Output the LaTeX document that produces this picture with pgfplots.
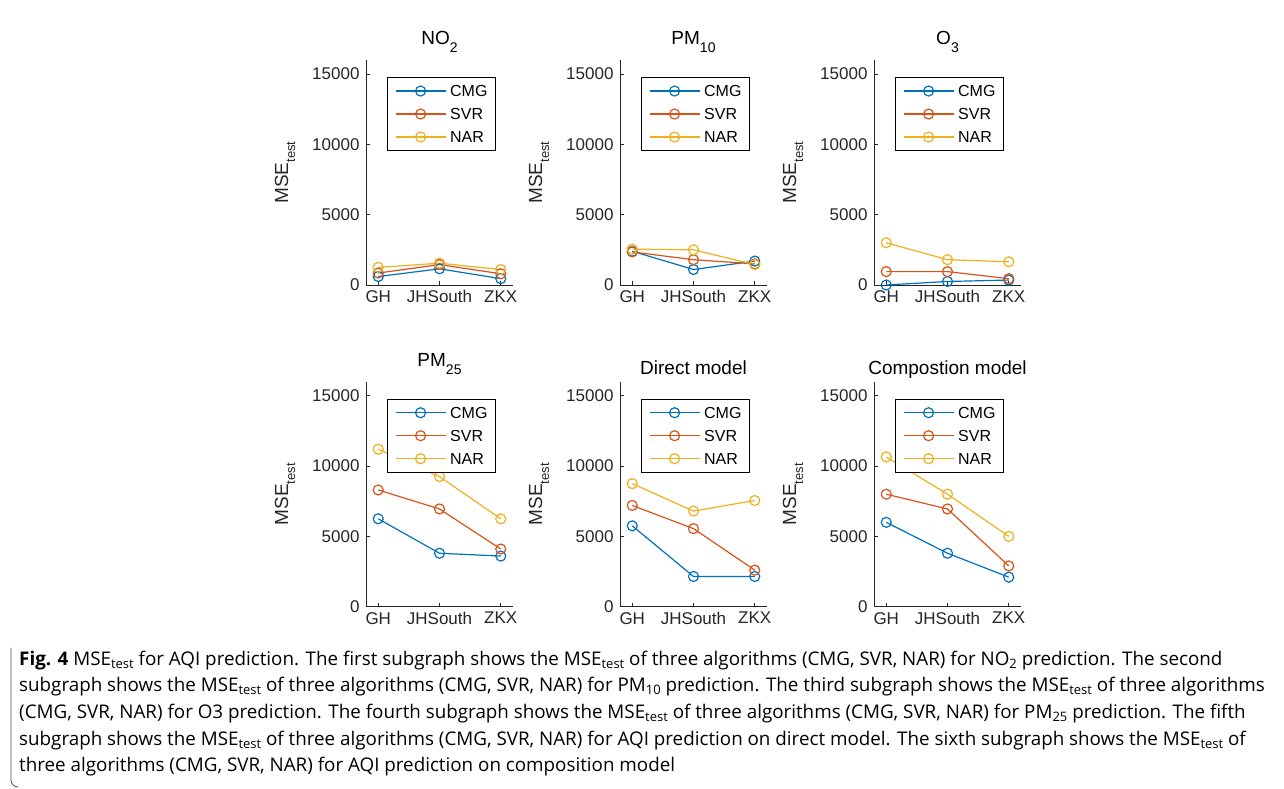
\documentclass[border=0pt]{standalone}
\usepackage{pgfplots}
\pgfplotsset{compat=1.18}
\usepackage{pgfplotstable}
\usepackage{fontspec}
\setmainfont{Liberation Sans}
\newfontfamily\capfont{Open Sans}

\definecolor{mblue}{RGB}{0,114,189}
\definecolor{mred}{RGB}{217,83,25}
\definecolor{myel}{RGB}{237,177,32}
\definecolor{axgray}{RGB}{38,38,38}

\newcommand\fs[1]{\fontsize{#1}{#1}\selectfont}
\newcommand\ttl[2]{#1\raisebox{-8pt}{\fs{14}#2}}
\newcommand\mse{MSE\raisebox{-7pt}{\fs{13}test}}
\newcommand\csub[1]{\raisebox{-3pt}{\fs{13}#1}}

% x: 1=GH 2=JHSouth 3=ZKX
\pgfplotstableread{
x cmg svr nar
1 600 850 1250
2 1150 1450 1550
3 450 800 1100
}\tabNO
\pgfplotstableread{
x cmg svr nar
1 2400 2350 2550
2 1100 1800 2500
3 1700 1500 1450
}\tabPMten
\pgfplotstableread{
x cmg svr nar
1 0 950 3000
2 250 950 1800
3 350 450 1650
}\tabO
\pgfplotstableread{
x cmg svr nar
1 6250 8300 11200
2 3800 6950 9250
3 3600 4100 6250
}\tabPMtf
\pgfplotstableread{
x cmg svr nar
1 5750 7200 8750
2 2150 5550 6800
3 2150 2600 7550
}\tabDir
\pgfplotstableread{
x cmg svr nar
1 6000 8000 10650
2 3800 6950 8000
3 2100 2900 5000
}\tabComp

\pgfplotsset{
  sub/.style={
    scale only axis, width=147pt, height=225pt,
    anchor=south west,
    xmin=0.8, xmax=3.2, ymin=0, ymax=16000,
    axis x line*=bottom, axis y line*=left,
    axis line style={axgray, line width=0.9pt},
    xtick={1,2,3}, xticklabels={GH,JHSouth,ZKX},
    ytick={0,5000,10000,15000}, yticklabels={0,5000,10000,15000},
    scaled y ticks=false,
    tick align=inside, major tick length=4pt,
    tick style={axgray, line width=0.8pt},
    ticklabel style={font=\fs{17}, text=axgray},
    yticklabel style={xshift=-3pt},
    xticklabel style={yshift=-2pt},
    ylabel={\mse},
    ylabel style={at={(axis description cs:-0.551,0.5)}, anchor=center, font=\fs{19}, text=axgray},
    title style={at={(axis description cs:0.5,1)}, anchor=base, font=\fs{19}, yshift=1pt},
    legend style={at={(axis description cs:0.884,0.924)}, anchor=north east,
      draw=black, line width=0.9pt, font=\fs{16}, inner xsep=8pt, inner ysep=2pt,
      row sep=0pt, column sep=4pt, cells={anchor=west},
      nodes={inner sep=0pt, text height=17.25pt, text depth=5.75pt}},
    legend image code/.code={\draw[mark repeat=2,mark phase=2]
      plot coordinates {(0pt,0pt)(25pt,0pt)(50pt,0pt)};},
    every axis plot/.append style={line width=1.2pt, mark=o, mark size=5pt},
    clip=false,
  },
  subt/.style={sub, title style={yshift=8pt}},
}

\newcommand\three[1]{%
  \addplot[mblue] table[x=x,y=cmg]{#1}; \addlegendentry{CMG}
  \addplot[mred] table[x=x,y=svr]{#1}; \addlegendentry{SVR}
  \addplot[myel] table[x=x,y=nar]{#1}; \addlegendentry{NAR}
}

\begin{document}
\begin{tikzpicture}
\path (0pt,0pt) rectangle (1284pt,789pt);

\begin{axis}[subt, at={(366pt,504pt)}, title={\ttl{NO}{2}}]
\three{\tabNO}
\end{axis}
\begin{axis}[subt, at={(620pt,504pt)}, title={\ttl{PM}{10}}]
\three{\tabPMten}
\end{axis}
\begin{axis}[subt, at={(874pt,504pt)}, title={\ttl{O}{3}}]
\three{\tabO}
\end{axis}

\begin{axis}[subt, at={(366pt,182.3pt)}, title={\ttl{PM}{25}}]
\three{\tabPMtf}
\end{axis}
\begin{axis}[sub, at={(620pt,182.3pt)}, title={Direct model}]
\three{\tabDir}
\end{axis}
\begin{axis}[sub, at={(874pt,182.3pt)}, title={Compostion model}]
\three{\tabComp}
\end{axis}

\draw[line width=0.8pt, black!70] (11pt,141pt) -- (11pt,9pt) to[out=-90,in=180] (18pt,2pt);
\begin{scope}[every node/.style={anchor=base west, inner sep=0pt, font=\capfont\fs{18.8}}]
\node at (19pt,123.5pt) {\textbf{Fig. 4} MSE\csub{test} for AQI prediction. The first subgraph shows the MSE\csub{test} of three algorithms (CMG, SVR, NAR) for NO\csub{2} prediction. The second};
\node at (19pt,97pt) {subgraph shows the MSE\csub{test} of three algorithms (CMG, SVR, NAR) for PM\csub{10} prediction. The third subgraph shows the MSE\csub{test} of three algorithms};
\node at (19pt,70pt) {(CMG, SVR, NAR) for O3 prediction. The fourth subgraph shows the MSE\csub{test} of three algorithms (CMG, SVR, NAR) for PM\csub{25} prediction. The fifth};
\node at (19pt,43.5pt) {subgraph shows the MSE\csub{test} of three algorithms (CMG, SVR, NAR) for AQI prediction on direct model. The sixth subgraph shows the MSE\csub{test} of};
\node at (19pt,17.5pt) {three algorithms (CMG, SVR, NAR) for AQI prediction on composition model};
\end{scope}
\end{tikzpicture}
\end{document}
